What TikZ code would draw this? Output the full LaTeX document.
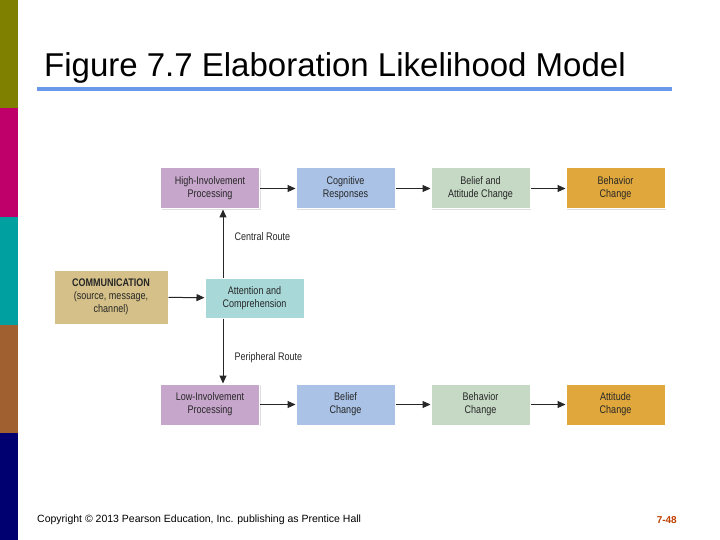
\documentclass[tikz,border=0pt]{standalone}
\usepackage{fontspec}
\setmainfont{Liberation Sans}
\newfontfamily\narrowfont[FakeStretch=0.82]{Liberation Sans}
\usetikzlibrary{arrows.meta,shadows}
\definecolor{cpur}{HTML}{C7A6CC}\definecolor{cblu}{HTML}{A9C2E6}
\definecolor{cgrn}{HTML}{C5D9C5}\definecolor{corg}{HTML}{E0A83C}
\definecolor{ctan}{HTML}{D4C088}\definecolor{ctea}{HTML}{A8D8D8}
\definecolor{titleblue}{HTML}{6A99EA}
\definecolor{bolive}{HTML}{808000}\definecolor{bmag}{HTML}{C0006A}
\definecolor{bteal}{HTML}{00A0A0}\definecolor{bbrown}{HTML}{A06030}
\definecolor{bnavy}{HTML}{000070}\definecolor{pgred}{HTML}{C04000}
\tikzset{box/.style={draw=white,line width=1pt,minimum width=99pt,minimum height=41pt,inner sep=1pt,align=center,font=\narrowfont\fontsize{11}{13}\selectfont,text=black!85,drop shadow={opacity=0.25,shadow xshift=1pt,shadow yshift=-1pt}},
arr/.style={-{Triangle[length=8pt,width=7pt]},line width=1pt,black!85},
lbl/.style={anchor=west,font=\narrowfont\fontsize{11}{13}\selectfont,text=black!85}}
\begin{document}
\begin{tikzpicture}[x=1pt,y=-1pt]
\useasboundingbox (0,0) rectangle (720,540);
\fill[white] (0,0) rectangle (720,540);
\fill[bolive] (0,0) rectangle (18,108);
\fill[bmag] (0,108) rectangle (18,217);
\fill[bteal] (0,217) rectangle (18,325);
\fill[bbrown] (0,325) rectangle (18,433);
\fill[bnavy] (0,433) rectangle (18,540);
\node[anchor=west,font=\fontsize{33}{36}\selectfont,inner sep=0pt] (title) at (44,68) {Figure 7.7 Elaboration Likelihood Model};
\fill[titleblue] (37,87) rectangle (672,91);
\node[box,fill=cpur] (hi) at (210,188.5) {High-Involvement\\Processing};
\node[box,fill=cblu] (cog) at (345.5,188.5) {Cognitive\\Responses};
\node[box,fill=cgrn] (ba) at (480.5,188.5) {Belief and\\Attitude Change};
\node[box,fill=corg] (bc) at (615.5,188.5) {Behavior\\Change};
\node[box,fill=cpur] (lo) at (210,404.5) {Low-Involvement\\Processing};
\node[box,fill=cblu] (bel) at (345.5,404.5) {Belief\\Change};
\node[box,fill=cgrn] (beh) at (480.5,404.5) {Behavior\\Change};
\node[box,fill=corg] (att) at (615.5,404.5) {Attitude\\Change};
\node[box,fill=ctan,minimum width=114pt,minimum height=54pt] (com) at (111,297) {\textbf{COMMUNICATION}\\(source, message,\\channel)};
\node[box,fill=ctea,minimum height=40pt] (ac) at (254.5,298) {Attention and\\Comprehension};
\draw[arr] (hi) -- (cog); \draw[arr] (cog) -- (ba); \draw[arr] (ba) -- (bc);
\draw[arr] (lo) -- (bel); \draw[arr] (bel) -- (beh); \draw[arr] (beh) -- (att);
\draw[arr] (com) -- (ac);
\draw[arr] (ac.north -| 223,0) -- (hi.south -| 223,0);
\draw[arr] (ac.south -| 223,0) -- (lo.north -| 223,0);
\node[lbl] (cr) at (231,237) {Central Route};
\node[lbl] (pr) at (231,358) {Peripheral Route};
\node[anchor=west,font=\fontsize{10.5}{12}\selectfont,inner sep=0pt] (copy) at (37,520) {Copyright © 2013 Pearson Education, Inc. publishing as Prentice Hall};
\node[anchor=east,font=\bfseries\fontsize{10}{12}\selectfont,text=pgred,inner sep=0pt] (pg) at (677,520) {7-48};
\end{tikzpicture}
\end{document}
